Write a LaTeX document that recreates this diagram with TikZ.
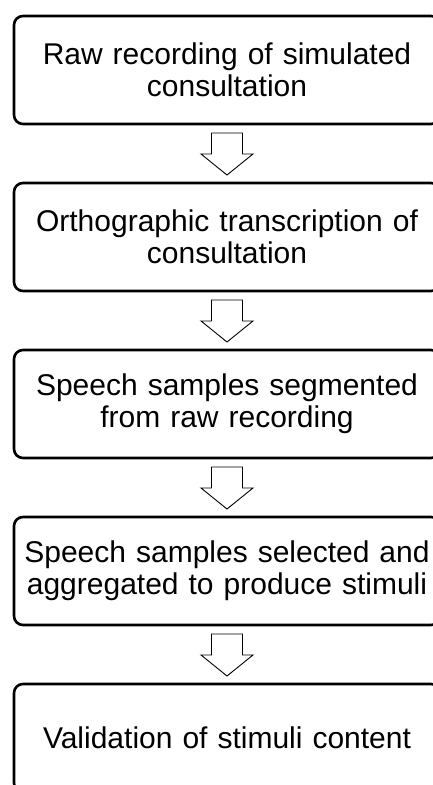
\documentclass[tikz,border=0pt]{standalone}
\usepackage{fontspec}
\setmainfont{Liberation Sans}
\usetikzlibrary{calc}
\begin{document}
\begin{tikzpicture}[x=1pt,y=-1pt,
  stagebox/.style={draw=black, line width=2.6pt, rounded corners=9pt, fill=white,
    minimum width=426pt, minimum height=108pt, text width=416pt, align=center,
    inner sep=0pt, outer sep=0pt, font=\fontsize{30}{32}\selectfont},
  flowarrow/.style={draw=black, line width=0.9pt, fill=white, line join=miter}]
\clip (0,0) rectangle (433,785);
\fill[white] (0,0) rectangle (433,785);
\node[stagebox] (s1) at (227,70) {Raw recording of simulated\\consultation};
\node[stagebox] (s2) at (227,237) {Orthographic transcription of\\consultation};
\node[stagebox] (s3) at (227,404) {Speech samples segmented\\from raw recording};
\node[stagebox] (s4) at (227,571) {Speech samples selected and\\aggregated to produce stimuli};
\node[stagebox] (s5) at (227,738) {Validation of stimuli content};
\foreach \a/\b in {s1/s2,s2/s3,s3/s4,s4/s5}{
  \draw[flowarrow] ($(\a.south)+(-15.5,9)$) -- ($(\a.south)+(15.5,9)$)
    -- ($(\b.north)+(15.5,-29)$) -- ($(\b.north)+(26,-29)$)
    -- ($(\b.north)+(0,-8)$) -- ($(\b.north)+(-26,-29)$)
    -- ($(\b.north)+(-15.5,-29)$) -- cycle;
}
\end{tikzpicture}
\end{document}
